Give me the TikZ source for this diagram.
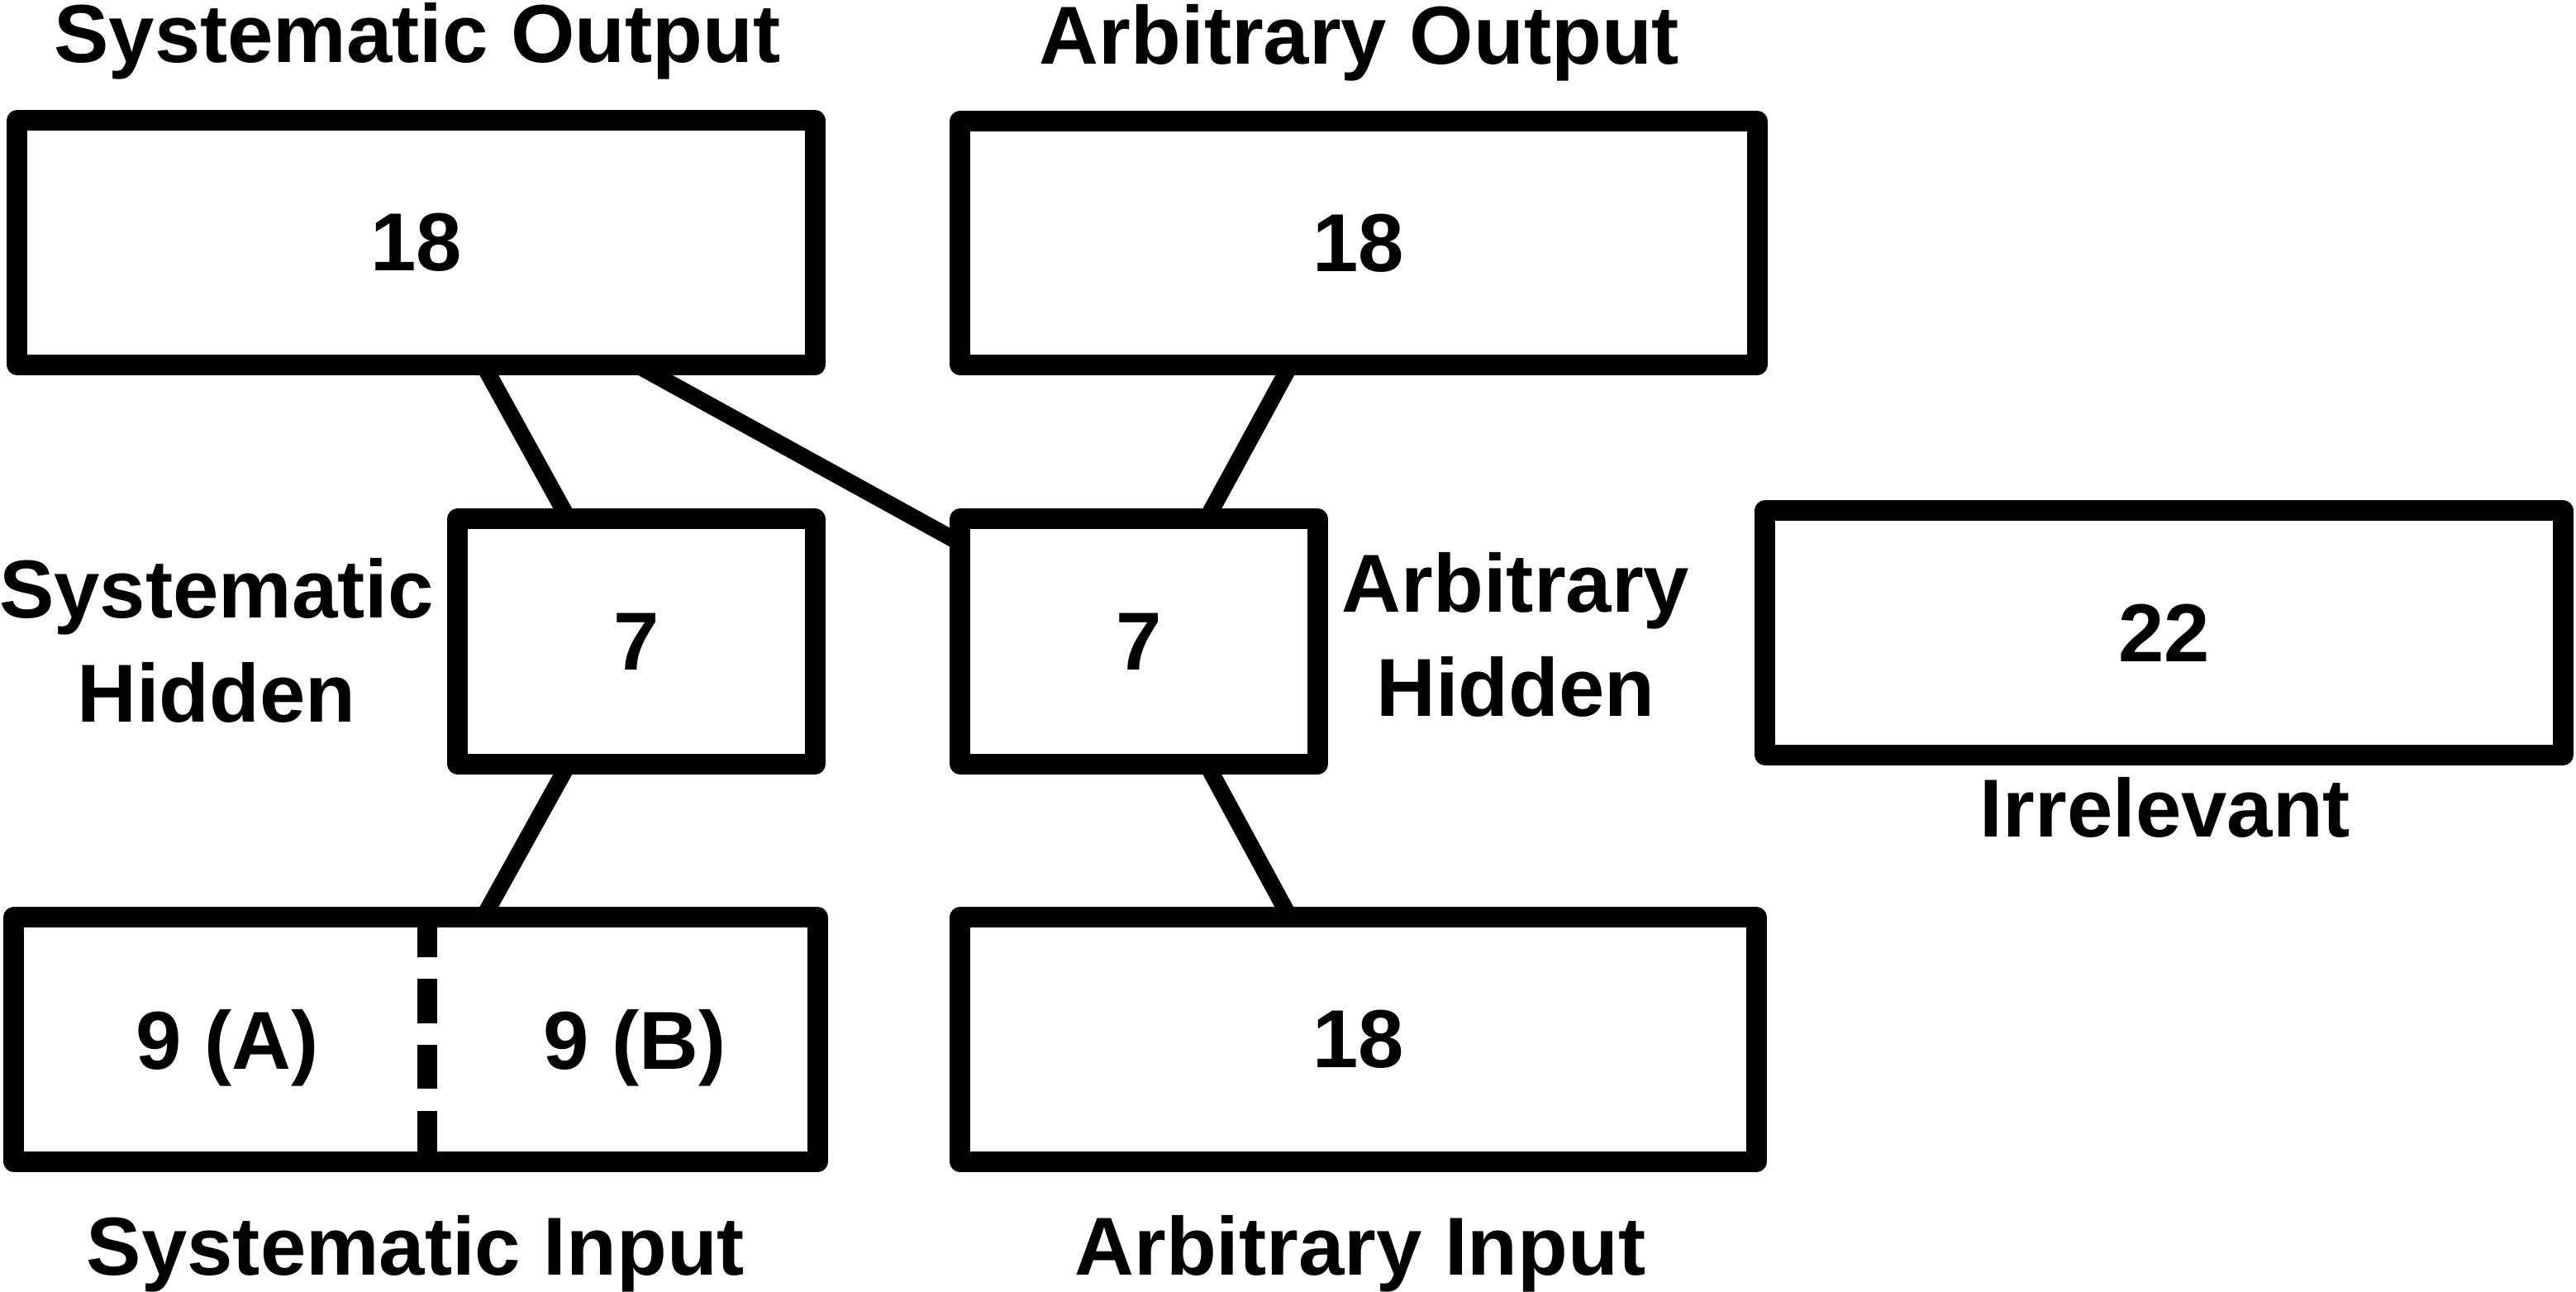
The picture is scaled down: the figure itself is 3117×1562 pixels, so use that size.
\documentclass[tikz,border=0pt]{standalone}
\usepackage{fontspec}
\setmainfont{Liberation Sans}
\usetikzlibrary{calc}
\begin{document}
\begin{tikzpicture}[x=0.01cm, y=-0.01cm,
  txt/.style={font=\bfseries\fontsize{28.3pt}{35.6pt}\selectfont},
  box/.style={draw, rectangle, line width=0.25cm, line join=round, outer sep=0pt, inner sep=0pt, txt},
  conn/.style={line width=0.2cm},
  divider/.style={line width=0.24cm, dash pattern=on 0.53cm off 0.265cm, dash phase=0.05cm},
  lbl/.style={txt, inner sep=0pt, anchor=base, align=center}]
\useasboundingbox (0,0) rectangle (3117,1562);

% boxes
\node[box, minimum width=9.65cm, minimum height=2.95cm] (SO) at (503.5,293.5) {18};
\node[box, minimum width=9.64cm, minimum height=2.94cm] (AO) at (1644,294) {18};
\node[box, minimum width=4.32cm, minimum height=2.96cm] (SH) at (770,776) {7};
\node[box, minimum width=4.32cm, minimum height=2.96cm] (AH) at (1378,776) {7};
\node[box, minimum width=9.65cm, minimum height=2.95cm] (IR) at (2618.5,765.5) {22};
\node[box, minimum width=9.72cm, minimum height=2.95cm] (SI) at (503,1257.5) {};
\node[box, minimum width=9.63cm, minimum height=2.95cm] (AI) at (1643.5,1257.5) {18};

% divider in systematic input
\draw[divider] ($(SI.north west)+(500,0)$) -- ($(SI.south west)+(500,0)$);

% connectors
\draw[conn] ($(SO.south west)+(564,0)$) -- ($(SH.north west)+(134,0)$);
\draw[conn] ($(SO.south west)+(749,0)$) -- ($(AH.north west)+(0,29)$);
\draw[conn] ($(AO.south west)+(400,0)$) -- ($(AH.north west)+(298,0)$);
\draw[conn] ($(SH.south west)+(134,0)$) -- ($(SI.north west)+(568,0)$);
\draw[conn] ($(AH.south west)+(298,0)$) -- ($(AI.north west)+(399,0)$);

% labels
\node[lbl] (tSO) at (505,75) {Systematic Output};
\node[lbl] (tAO) at (1645,77) {Arbitrary Output};
\node[lbl] (tSH) at (262,873) {Systematic\\Hidden};
\node[lbl] (tAH) at (1834,866) {Arbitrary\\Hidden};
\node[lbl] (tIR) at (2620,1012) {Irrelevant};
\node[lbl] (tSI) at (503,1542) {Systematic Input};
\node[lbl] (tAI) at (1646,1542) {Arbitrary Input};
\node[lbl] (tA) at (275,1293) {9 (A)};
\node[lbl] (tB) at (768,1293) {9 (B)};
\end{tikzpicture}
\end{document}
